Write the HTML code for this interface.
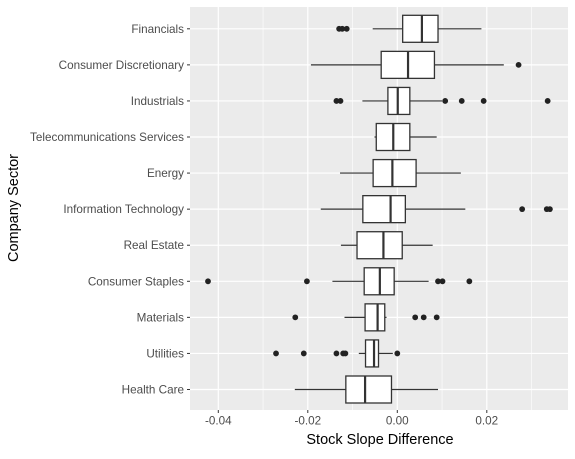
<!DOCTYPE html>
<html><head><meta charset="utf-8"><style>
body{margin:0;background:#fff;}
svg text{font-family:"Liberation Sans",Arial,sans-serif;}
</style></head><body>
<svg id="chart" width="575" height="454" xmlns="http://www.w3.org/2000/svg">
<rect x="190" y="7" width="378" height="403" fill="#EBEBEB"/>
<g id="grid"></g><g id="boxes"></g><g id="axes"></g>
<text x="380" y="444" text-anchor="middle" font-size="14.5" fill="#000">Stock Slope Difference</text>
<text transform="translate(18,208) rotate(-90)" text-anchor="middle" font-size="14.5" fill="#000">Company Sector</text>
</svg>
<script>
const categories=["Financials","Consumer Discretionary","Industrials","Telecommunications Services","Energy","Information Technology","Real Estate","Consumer Staples","Materials","Utilities","Health Care"];
const lowWhisker=[-0.0055,-0.0193,-0.0078,-0.0051,-0.0128,-0.0171,-0.0126,-0.0145,-0.0118,-0.0086,-0.0229];
const q1=[0.0012,-0.0036,-0.0021,-0.0047,-0.0054,-0.0077,-0.0090,-0.0074,-0.0072,-0.0071,-0.0115];
const median=[0.0055,0.0024,0.0001,-0.0009,-0.0011,-0.0015,-0.0031,-0.0039,-0.0044,-0.0052,-0.0072];
const q3=[0.0091,0.0083,0.0028,0.0028,0.0042,0.0018,0.0011,-0.0007,-0.0028,-0.0042,-0.0013];
const highWhisker=[0.0188,0.0238,0.0100,0.0088,0.0142,0.0152,0.0079,0.0070,-0.0024,-0.0010,0.0091];
const outliers=[[-0.0130,-0.0123,-0.0113],[0.0271],[-0.0136,-0.0127,0.0107,0.0144,0.0193,0.0336],[],[],[0.0279,0.0334,0.0341],[],[-0.0423,-0.0202,0.0091,0.0101,0.0161],[-0.0228,0.0040,0.0059,0.0088],[-0.0271,-0.0209,-0.0136,-0.0121,-0.0116,0.0000],[]];
const xTicks=[-0.04,-0.02,0,0.02];
const xTickLabels=["-0.04","-0.02","0.00","0.02"];
const xMinor=[-0.03,-0.01,0.01,0.03];
const NS="http://www.w3.org/2000/svg";
const x=v=>397.3+v*4475;
const y=i=>28.8+i*36.07;
function mk(tag,attrs,parent){const e=document.createElementNS(NS,tag);for(const k in attrs)e.setAttribute(k,attrs[k]);parent.appendChild(e);return e;}
const grid=document.getElementById('grid'),boxes=document.getElementById('boxes'),axes=document.getElementById('axes');
xMinor.forEach(v=>{const l=mk('line',{x1:x(v),x2:x(v),y1:7,y2:410,stroke:'#fff','stroke-width':0.6},grid);

});
xTicks.forEach((v,i)=>{const l=mk('line',{x1:x(v),x2:x(v),y1:7,y2:410,stroke:'#fff','stroke-width':1.2},grid);


const t=mk('line',{x1:x(v),x2:x(v),y1:410,y2:413,stroke:'#333','stroke-width':1},axes);


const tx=mk('text',{x:x(v),y:424.5,'text-anchor':'middle','font-size':11.7,fill:'#4D4D4D'},axes);tx.textContent=xTickLabels[i];

});
categories.forEach((c,i)=>{const yy=y(i);
const gl=mk('line',{x1:190,x2:568,y1:yy,y2:yy,stroke:'#fff','stroke-width':1.2},grid);


const tk=mk('line',{x1:187,x2:190,y1:yy,y2:yy,stroke:'#333','stroke-width':1},axes);


const lb=mk('text',{x:184,y:yy+4,'text-anchor':'end','font-size':11.7,fill:'#4D4D4D'},axes);lb.textContent=c;


const g=mk('g',{},boxes);


mk('line',{x1:x(lowWhisker[i]),x2:x(q1[i]),y1:yy,y2:yy,stroke:'#333','stroke-width':1.2},g);
mk('line',{x1:x(q3[i]),x2:x(highWhisker[i]),y1:yy,y2:yy,stroke:'#333','stroke-width':1.2},g);
mk('rect',{x:x(q1[i]),y:yy-13.5,width:x(q3[i])-x(q1[i]),height:27,fill:'#fff',stroke:'#333','stroke-width':1.3},g);
mk('line',{x1:x(median[i]),x2:x(median[i]),y1:yy-13.5,y2:yy+13.5,stroke:'#333','stroke-width':2.2},g);
outliers[i].forEach(v=>{const p=mk('circle',{cx:x(v),cy:yy,r:2.9,fill:'#222'},g);

});});
</script>
</body></html>
